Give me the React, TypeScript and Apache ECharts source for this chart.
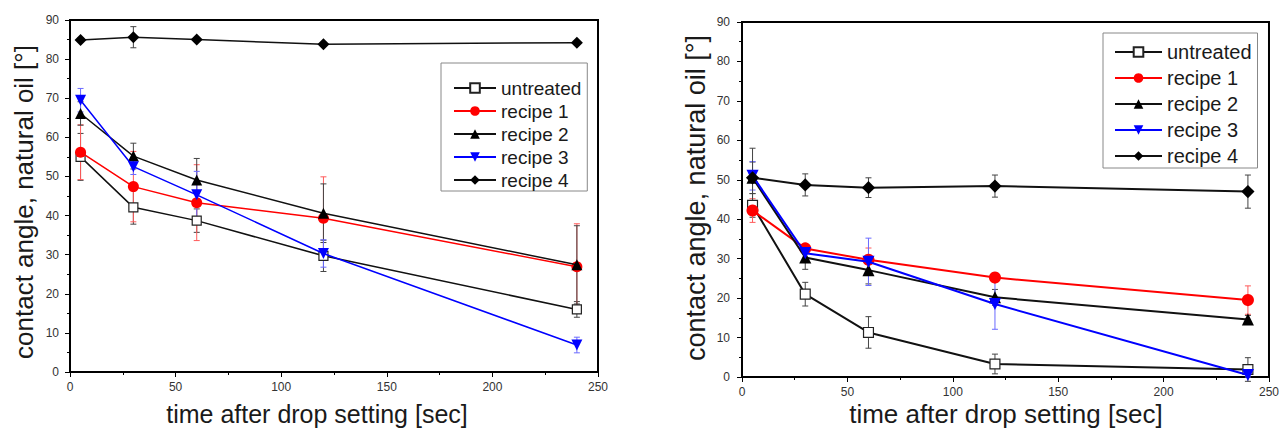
import React, { useEffect, useRef } from "react";
import * as echarts from "echarts";

const times = [5, 30, 60, 120, 240];
const seriesNames = ["untreated", "recipe 1", "recipe 2", "recipe 3", "recipe 4"];
const xTicks = { min: 0, max: 250, interval: 50 };
const yTicks = { min: 0, max: 90, interval: 10 };

// Left chart values
const untreatedA = [55.0, 42.1, 38.7, 29.7, 16.0];
const untreatedAErr = [6, 4.3, 3, 4, 2];
const recipe1A = [56.2, 47.4, 43.3, 39.3, 26.9];
const recipe1AErr = [7, 9, 9.7, 10.6, 11];
const recipe2A = [66.1, 55.2, 49.1, 40.6, 27.4];
const recipe2AErr = [3, 3.3, 5.5, 7.5, 10];
const recipe3A = [69.5, 52.5, 45.3, 30.3, 6.9];
const recipe3AErr = [3, 2, 6, 3.5, 2];
const recipe4A = [84.9, 85.6, 85.0, 83.8, 84.2];
const recipe4AErr = [0.5, 2.7, 0.5, 0.5, 0.5];

// Right chart values
const untreatedB = [43.5, 21.0, 11.3, 3.3, 1.9];
const untreatedBErr = [3, 3, 4, 2.5, 3];
const recipe1B = [42.2, 32.6, 29.7, 25.2, 19.5];
const recipe1BErr = [3, 1, 3, 1, 3.6];
const recipe2B = [50.5, 30.3, 27.1, 20.2, 14.6];
const recipe2BErr = [4, 3, 3.5, 2, 1];
const recipe3B = [51.0, 31.4, 29.2, 18.5, 0.5];
const recipe3BErr = [3.6, 2, 6, 6.4, 0.5];
const recipe4B = [50.5, 48.7, 48.0, 48.4, 47.0];
const recipe4BErr = [7.5, 2.8, 2.5, 2.8, 4.2];

const yTitle = "contact angle, natural oil [°]";
const xTitle = "time after drop setting [sec]";

const FONT = "Liberation Sans";

type Style = {
  symbol: string;
  size: number | number[];
  rotate?: number;
  line: string;
  fill: string;
  border: string;
  err: string;
};

const styles: Style[] = [
  { symbol: "rect", size: 9, line: "#111", fill: "#fff", border: "#222", err: "#444" },
  { symbol: "circle", size: 11, line: "#ff0000", fill: "#ff0000", border: "#ff0000", err: "#ff5a5a" },
  { symbol: "triangle", size: 11, line: "#111", fill: "#000", border: "#000", err: "#444" },
  { symbol: "triangle", size: 11, rotate: 180, line: "#0000ff", fill: "#0000ff", border: "#0000ff", err: "#6a6aff" },
  { symbol: "diamond", size: [12, 12], line: "#111", fill: "#000", border: "#000", err: "#444" },
];

function zip(vals: number[], errs: number[]) {
  return times.map((t, i) => [t, vals[i], errs[i]]);
}

function buildSeries(gridIdx: number, sets: number[][][], lineWidth: number, sizeScale: number) {
  const out: any[] = [];
  sets.forEach((data, i) => {
    const st = styles[i];
    out.push({
      type: "custom",
      name: "err-" + gridIdx + "-" + i,
      xAxisIndex: gridIdx,
      yAxisIndex: gridIdx,
      z: 1,
      data,
      encode: { x: 0, y: 1 },
      renderItem: (params: any, api: any) => {
        const x = api.value(0);
        const y = api.value(1);
        const e = api.value(2);
        const top = api.coord([x, y + e]);
        const bot = api.coord([x, y - e]);
        const cap = 3;
        const s = { stroke: st.err, lineWidth: 1 };
        return {
          type: "group",
          children: [
            { type: "line", shape: { x1: top[0], y1: top[1], x2: bot[0], y2: bot[1] }, style: s },
            { type: "line", shape: { x1: top[0] - cap, y1: top[1], x2: top[0] + cap, y2: top[1] }, style: s },
            { type: "line", shape: { x1: bot[0] - cap, y1: bot[1], x2: bot[0] + cap, y2: bot[1] }, style: s },
          ],
        };
      },
    });
  });
  sets.forEach((data, i) => {
    const st = styles[i];
    const size = Array.isArray(st.size) ? st.size.map((v) => v * sizeScale) : st.size * sizeScale;
    out.push({
      type: "line",
      name: seriesNames[i],
      xAxisIndex: gridIdx,
      yAxisIndex: gridIdx,
      z: 3 + i,
      data: data.map((d) => [d[0], d[1]]),
      symbol: st.symbol,
      symbolSize: size,
      symbolRotate: st.rotate || 0,
      showSymbol: true,
      lineStyle: { color: st.line, width: lineWidth },
      itemStyle: { color: st.fill, borderColor: st.border, borderWidth: st.symbol === "rect" ? 1.2 : 0, opacity: 1 },
      emphasis: { disabled: true },
    });
  });
  return out;
}

function axisCommon(gridIndex: number, labelMargin: number) {
  return {
    gridIndex,
    type: "value",
    axisLine: { show: true, onZero: false, lineStyle: { color: "#000", width: 2 } },
    axisTick: { show: true, inside: false, length: 5, lineStyle: { color: "#000", width: 1 } },
    minorTick: { show: true, splitNumber: 2, length: 3, lineStyle: { color: "#000", width: 1 } },
    splitLine: { show: false },
    minorSplitLine: { show: false },
    axisLabel: { color: "#333", fontSize: 12, fontFamily: FONT, margin: labelMargin },
  };
}

function legend(left: number, top: number, fontSize: number, lineHeight: number, itemGap: number, itemWidth: number, padding: number[]) {
  return {
    orient: "vertical",
    left,
    top,
    data: seriesNames,
    itemWidth,
    itemHeight: 12,
    itemGap,
    padding,
    borderColor: "#888",
    borderWidth: 1,
    backgroundColor: "#fff",
    selectedMode: false,
    textStyle: { fontSize, fontFamily: FONT, color: "#1a1a1a", lineHeight },
  };
}

export default function App() {
  const ref = useRef<HTMLDivElement>(null);
  useEffect(() => {
    if (!ref.current) return;
    const chart = echarts.init(ref.current, undefined, { renderer: "svg" });
    const setsA = [
      zip(untreatedA, untreatedAErr),
      zip(recipe1A, recipe1AErr),
      zip(recipe2A, recipe2AErr),
      zip(recipe3A, recipe3AErr),
      zip(recipe4A, recipe4AErr),
    ];
    const setsB = [
      zip(untreatedB, untreatedBErr),
      zip(recipe1B, recipe1BErr),
      zip(recipe2B, recipe2BErr),
      zip(recipe3B, recipe3BErr),
      zip(recipe4B, recipe4BErr),
    ];
    chart.setOption({
      animation: false,
      backgroundColor: "#fff",
      grid: [
        { left: 70, top: 20, width: 528, height: 352, show: true, borderColor: "#000", borderWidth: 2, backgroundColor: "transparent" },
        { left: 742, top: 22, width: 531, height: 355, show: true, borderColor: "#000", borderWidth: 2, backgroundColor: "transparent" },
      ],
      xAxis: [
        { ...axisCommon(0, 9), ...xTicks },
        { ...axisCommon(1, 9), ...xTicks },
      ],
      yAxis: [
        { ...axisCommon(0, 11), ...yTicks },
        { ...axisCommon(1, 12), ...yTicks },
      ],
      legend: [
        legend(441, 63, 19, 20, 3, 42, [15, 6, 1, 12]),
        legend(1103, 33, 20, 22, 4, 47, [8, 6, 1, 11]),
      ],
      graphic: [
        {
          type: "text",
          x: 24,
          y: 202,
          rotation: Math.PI / 2,
          style: { text: yTitle, fontSize: 26, fontFamily: FONT, fill: "#1a1a1a", align: "center", verticalAlign: "middle" },
        },
        {
          type: "text",
          x: 695,
          y: 198,
          rotation: Math.PI / 2,
          scaleY: 1.05,
          style: { text: yTitle, fontSize: 27, fontFamily: FONT, fill: "#1a1a1a", align: "center", verticalAlign: "middle" },
        },
        {
          type: "text",
          x: 317,
          y: 414,
          style: { text: xTitle, fontSize: 25, fontFamily: FONT, fill: "#1a1a1a", align: "center", verticalAlign: "middle" },
        },
        {
          type: "text",
          x: 1006,
          y: 414,
          style: { text: xTitle, fontSize: 26, fontFamily: FONT, fill: "#1a1a1a", align: "center", verticalAlign: "middle" },
        },
      ],
      series: [...buildSeries(0, setsA, 1.5, 1), ...buildSeries(1, setsB, 2, 1.1)],
    });
    return () => chart.dispose();
  }, []);
  return <div ref={ref} style={{ position: "absolute", left: 0, top: 0, width: 1282, height: 428 }} />;
}
